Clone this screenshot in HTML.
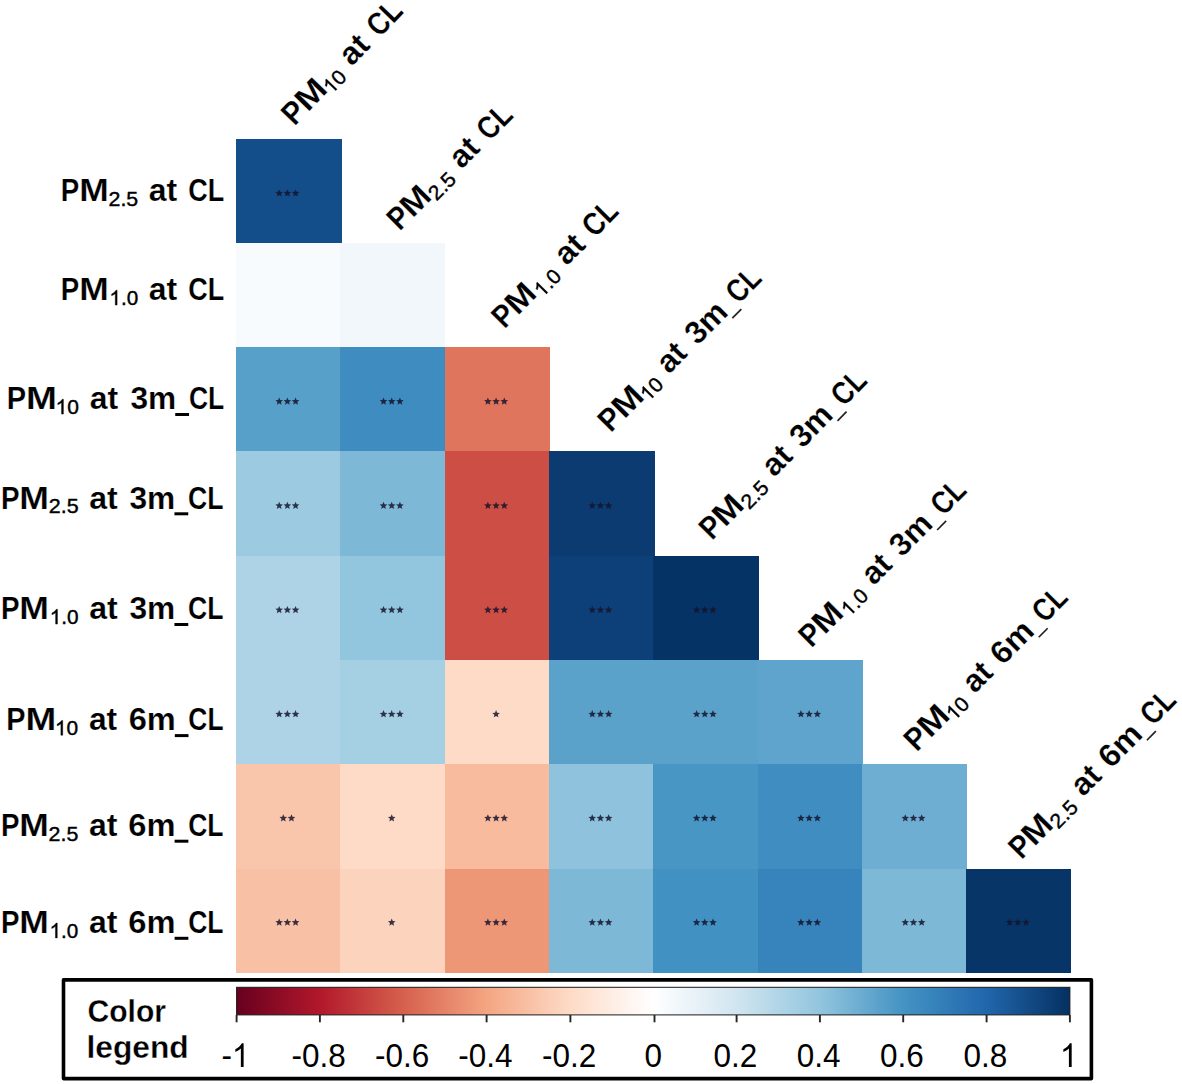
<!DOCTYPE html>
<html><head><meta charset="utf-8"><title>Correlation heatmap</title>
<style>
html,body{margin:0;padding:0;background:#fff;}
body{width:1182px;height:1084px;overflow:hidden;font-family:"Liberation Sans",sans-serif;}
svg{display:block}
text{font-family:"Liberation Sans",sans-serif;fill:#000}
.b{font-weight:bold;font-size:31.8px;stroke:#fff;stroke-width:0.2;paint-order:fill stroke}
.s{font-weight:normal;font-size:20.6px;stroke:#000;stroke-width:0.4}
.tk{font-size:31.5px;text-anchor:middle}
.lg{font-weight:bold;font-size:31.3px;stroke:#fff;stroke-width:0.3;paint-order:fill stroke}
.stars{fill:#15132b;fill-opacity:.84}
</style></head><body>
<svg width="1182" height="1084" viewBox="0 0 1182 1084">
<defs><linearGradient id="rdbu" x1="0" x2="1" y1="0" y2="0"><stop offset="0.00" stop-color="#67001F"/><stop offset="0.10" stop-color="#B2182B"/><stop offset="0.20" stop-color="#D6604D"/><stop offset="0.30" stop-color="#F4A582"/><stop offset="0.40" stop-color="#FDDBC7"/><stop offset="0.50" stop-color="#FFFFFF"/><stop offset="0.60" stop-color="#D1E5F0"/><stop offset="0.70" stop-color="#92C5DE"/><stop offset="0.80" stop-color="#4393C3"/><stop offset="0.90" stop-color="#2166AC"/><stop offset="1.00" stop-color="#053061"/></linearGradient></defs>
<rect width="1182" height="1084" fill="#fff"/>
<g shape-rendering="crispEdges">
<rect x="236.00" y="138.50" width="105.55" height="104.71" fill="#144e8a"/>
<rect x="236.00" y="242.81" width="104.75" height="104.71" fill="#f8fbfd"/><rect x="340.35" y="242.81" width="104.75" height="104.71" fill="#f1f7fa"/>
<rect x="236.00" y="347.12" width="104.75" height="104.71" fill="#57a0ca"/><rect x="340.35" y="347.12" width="104.75" height="104.71" fill="#3e8cc0"/><rect x="444.70" y="347.12" width="105.15" height="104.71" fill="#df755d"/>
<rect x="236.00" y="451.44" width="104.75" height="104.71" fill="#9bcae1"/><rect x="340.35" y="451.44" width="104.75" height="104.71" fill="#7eb8d7"/><rect x="444.70" y="451.44" width="104.75" height="104.71" fill="#cd4e44"/><rect x="549.05" y="451.44" width="106.35" height="104.71" fill="#0b3b70"/>
<rect x="236.00" y="555.75" width="104.75" height="104.71" fill="#aed3e6"/><rect x="340.35" y="555.75" width="104.75" height="104.71" fill="#92c5de"/><rect x="444.70" y="555.75" width="104.75" height="104.71" fill="#cd4e44"/><rect x="549.05" y="555.75" width="104.75" height="104.71" fill="#0d4078"/><rect x="653.40" y="555.75" width="105.55" height="104.71" fill="#063365"/>
<rect x="236.00" y="660.06" width="104.75" height="104.71" fill="#aed3e6"/><rect x="340.35" y="660.06" width="104.75" height="104.71" fill="#a5cfe3"/><rect x="444.70" y="660.06" width="104.75" height="104.71" fill="#fddbc7"/><rect x="549.05" y="660.06" width="104.75" height="104.71" fill="#5ba2cb"/><rect x="653.40" y="660.06" width="104.75" height="104.71" fill="#5ba2cb"/><rect x="757.75" y="660.06" width="104.75" height="104.71" fill="#5fa4cc"/>
<rect x="236.00" y="764.38" width="104.75" height="104.71" fill="#f9c5ab"/><rect x="340.35" y="764.38" width="104.75" height="104.71" fill="#fddbc7"/><rect x="444.70" y="764.38" width="104.75" height="104.71" fill="#f8bb9e"/><rect x="549.05" y="764.38" width="104.75" height="104.71" fill="#8ec2dd"/><rect x="653.40" y="764.38" width="104.75" height="104.71" fill="#4796c4"/><rect x="757.75" y="764.38" width="104.75" height="104.71" fill="#408ec1"/><rect x="862.10" y="764.38" width="104.95" height="104.71" fill="#6eaed2"/>
<rect x="236.00" y="868.69" width="104.75" height="104.71" fill="#f8c0a4"/><rect x="340.35" y="868.69" width="104.75" height="104.71" fill="#fcd3bd"/><rect x="444.70" y="868.69" width="104.75" height="104.71" fill="#ee9777"/><rect x="549.05" y="868.69" width="104.75" height="104.71" fill="#7eb8d7"/><rect x="653.40" y="868.69" width="104.75" height="104.71" fill="#4191c2"/><rect x="757.75" y="868.69" width="104.75" height="104.71" fill="#3783bb"/><rect x="862.10" y="868.69" width="104.75" height="104.71" fill="#7eb8d7"/><rect x="966.45" y="868.69" width="104.75" height="104.71" fill="#083568"/>
</g>
<g class="stars">
<polygon points="279.18,189.16 280.23,191.70 282.98,191.92 280.89,193.71 281.53,196.39 279.18,194.96 276.82,196.39 277.46,193.71 275.37,191.92 278.12,191.70"/><polygon points="287.38,189.16 288.43,191.70 291.18,191.92 289.09,193.71 289.73,196.39 287.38,194.96 285.02,196.39 285.66,193.71 283.57,191.92 286.32,191.70"/><polygon points="295.57,189.16 296.63,191.70 299.38,191.92 297.29,193.71 297.93,196.39 295.57,194.96 293.22,196.39 293.86,193.71 291.77,191.92 294.52,191.70"/>

<polygon points="279.18,397.54 280.23,400.09 282.98,400.31 280.89,402.10 281.53,404.78 279.18,403.34 276.82,404.78 277.46,402.10 275.37,400.31 278.12,400.09"/><polygon points="287.38,397.54 288.43,400.09 291.18,400.31 289.09,402.10 289.73,404.78 287.38,403.34 285.02,404.78 285.66,402.10 283.57,400.31 286.32,400.09"/><polygon points="295.57,397.54 296.63,400.09 299.38,400.31 297.29,402.10 297.93,404.78 295.57,403.34 293.22,404.78 293.86,402.10 291.77,400.31 294.52,400.09"/><polygon points="383.52,397.54 384.58,400.09 387.33,400.31 385.24,402.10 385.88,404.78 383.52,403.34 381.17,404.78 381.81,402.10 379.72,400.31 382.47,400.09"/><polygon points="391.72,397.54 392.78,400.09 395.53,400.31 393.44,402.10 394.08,404.78 391.72,403.34 389.37,404.78 390.01,402.10 387.92,400.31 390.67,400.09"/><polygon points="399.92,397.54 400.98,400.09 403.73,400.31 401.64,402.10 402.28,404.78 399.92,403.34 397.57,404.78 398.21,402.10 396.12,400.31 398.87,400.09"/><polygon points="487.88,397.54 488.93,400.09 491.68,400.31 489.59,402.10 490.23,404.78 487.88,403.34 485.52,404.78 486.16,402.10 484.07,400.31 486.82,400.09"/><polygon points="496.07,397.54 497.13,400.09 499.88,400.31 497.79,402.10 498.43,404.78 496.07,403.34 493.72,404.78 494.36,402.10 492.27,400.31 495.02,400.09"/><polygon points="504.27,397.54 505.33,400.09 508.08,400.31 505.99,402.10 506.63,404.78 504.27,403.34 501.92,404.78 502.56,402.10 500.47,400.31 503.22,400.09"/>
<polygon points="279.18,501.73 280.23,504.28 282.98,504.50 280.89,506.29 281.53,508.97 279.18,507.53 276.82,508.97 277.46,506.29 275.37,504.50 278.12,504.28"/><polygon points="287.38,501.73 288.43,504.28 291.18,504.50 289.09,506.29 289.73,508.97 287.38,507.53 285.02,508.97 285.66,506.29 283.57,504.50 286.32,504.28"/><polygon points="295.57,501.73 296.63,504.28 299.38,504.50 297.29,506.29 297.93,508.97 295.57,507.53 293.22,508.97 293.86,506.29 291.77,504.50 294.52,504.28"/><polygon points="383.52,501.73 384.58,504.28 387.33,504.50 385.24,506.29 385.88,508.97 383.52,507.53 381.17,508.97 381.81,506.29 379.72,504.50 382.47,504.28"/><polygon points="391.72,501.73 392.78,504.28 395.53,504.50 393.44,506.29 394.08,508.97 391.72,507.53 389.37,508.97 390.01,506.29 387.92,504.50 390.67,504.28"/><polygon points="399.92,501.73 400.98,504.28 403.73,504.50 401.64,506.29 402.28,508.97 399.92,507.53 397.57,508.97 398.21,506.29 396.12,504.50 398.87,504.28"/><polygon points="487.88,501.73 488.93,504.28 491.68,504.50 489.59,506.29 490.23,508.97 487.88,507.53 485.52,508.97 486.16,506.29 484.07,504.50 486.82,504.28"/><polygon points="496.07,501.73 497.13,504.28 499.88,504.50 497.79,506.29 498.43,508.97 496.07,507.53 493.72,508.97 494.36,506.29 492.27,504.50 495.02,504.28"/><polygon points="504.27,501.73 505.33,504.28 508.08,504.50 505.99,506.29 506.63,508.97 504.27,507.53 501.92,508.97 502.56,506.29 500.47,504.50 503.22,504.28"/><polygon points="592.22,501.73 593.28,504.28 596.03,504.50 593.94,506.29 594.58,508.97 592.22,507.53 589.87,508.97 590.51,506.29 588.42,504.50 591.17,504.28"/><polygon points="600.42,501.73 601.48,504.28 604.23,504.50 602.14,506.29 602.78,508.97 600.42,507.53 598.07,508.97 598.71,506.29 596.62,504.50 599.37,504.28"/><polygon points="608.62,501.73 609.68,504.28 612.43,504.50 610.34,506.29 610.98,508.97 608.62,507.53 606.27,508.97 606.91,506.29 604.82,504.50 607.57,504.28"/>
<polygon points="279.18,605.93 280.23,608.47 282.98,608.69 280.89,610.48 281.53,613.16 279.18,611.73 276.82,613.16 277.46,610.48 275.37,608.69 278.12,608.47"/><polygon points="287.38,605.93 288.43,608.47 291.18,608.69 289.09,610.48 289.73,613.16 287.38,611.73 285.02,613.16 285.66,610.48 283.57,608.69 286.32,608.47"/><polygon points="295.57,605.93 296.63,608.47 299.38,608.69 297.29,610.48 297.93,613.16 295.57,611.73 293.22,613.16 293.86,610.48 291.77,608.69 294.52,608.47"/><polygon points="383.52,605.93 384.58,608.47 387.33,608.69 385.24,610.48 385.88,613.16 383.52,611.73 381.17,613.16 381.81,610.48 379.72,608.69 382.47,608.47"/><polygon points="391.72,605.93 392.78,608.47 395.53,608.69 393.44,610.48 394.08,613.16 391.72,611.73 389.37,613.16 390.01,610.48 387.92,608.69 390.67,608.47"/><polygon points="399.92,605.93 400.98,608.47 403.73,608.69 401.64,610.48 402.28,613.16 399.92,611.73 397.57,613.16 398.21,610.48 396.12,608.69 398.87,608.47"/><polygon points="487.88,605.93 488.93,608.47 491.68,608.69 489.59,610.48 490.23,613.16 487.88,611.73 485.52,613.16 486.16,610.48 484.07,608.69 486.82,608.47"/><polygon points="496.07,605.93 497.13,608.47 499.88,608.69 497.79,610.48 498.43,613.16 496.07,611.73 493.72,613.16 494.36,610.48 492.27,608.69 495.02,608.47"/><polygon points="504.27,605.93 505.33,608.47 508.08,608.69 505.99,610.48 506.63,613.16 504.27,611.73 501.92,613.16 502.56,610.48 500.47,608.69 503.22,608.47"/><polygon points="592.22,605.93 593.28,608.47 596.03,608.69 593.94,610.48 594.58,613.16 592.22,611.73 589.87,613.16 590.51,610.48 588.42,608.69 591.17,608.47"/><polygon points="600.42,605.93 601.48,608.47 604.23,608.69 602.14,610.48 602.78,613.16 600.42,611.73 598.07,613.16 598.71,610.48 596.62,608.69 599.37,608.47"/><polygon points="608.62,605.93 609.68,608.47 612.43,608.69 610.34,610.48 610.98,613.16 608.62,611.73 606.27,613.16 606.91,610.48 604.82,608.69 607.57,608.47"/><polygon points="696.58,605.93 697.63,608.47 700.38,608.69 698.29,610.48 698.93,613.16 696.58,611.73 694.22,613.16 694.86,610.48 692.77,608.69 695.52,608.47"/><polygon points="704.78,605.93 705.83,608.47 708.58,608.69 706.49,610.48 707.13,613.16 704.78,611.73 702.42,613.16 703.06,610.48 700.97,608.69 703.72,608.47"/><polygon points="712.98,605.93 714.03,608.47 716.78,608.69 714.69,610.48 715.33,613.16 712.98,611.73 710.62,613.16 711.26,610.48 709.17,608.69 711.92,608.47"/>
<polygon points="279.18,710.12 280.23,712.66 282.98,712.88 280.89,714.67 281.53,717.35 279.18,715.92 276.82,717.35 277.46,714.67 275.37,712.88 278.12,712.66"/><polygon points="287.38,710.12 288.43,712.66 291.18,712.88 289.09,714.67 289.73,717.35 287.38,715.92 285.02,717.35 285.66,714.67 283.57,712.88 286.32,712.66"/><polygon points="295.57,710.12 296.63,712.66 299.38,712.88 297.29,714.67 297.93,717.35 295.57,715.92 293.22,717.35 293.86,714.67 291.77,712.88 294.52,712.66"/><polygon points="383.52,710.12 384.58,712.66 387.33,712.88 385.24,714.67 385.88,717.35 383.52,715.92 381.17,717.35 381.81,714.67 379.72,712.88 382.47,712.66"/><polygon points="391.72,710.12 392.78,712.66 395.53,712.88 393.44,714.67 394.08,717.35 391.72,715.92 389.37,717.35 390.01,714.67 387.92,712.88 390.67,712.66"/><polygon points="399.92,710.12 400.98,712.66 403.73,712.88 401.64,714.67 402.28,717.35 399.92,715.92 397.57,717.35 398.21,714.67 396.12,712.88 398.87,712.66"/><polygon points="496.07,710.12 497.13,712.66 499.88,712.88 497.79,714.67 498.43,717.35 496.07,715.92 493.72,717.35 494.36,714.67 492.27,712.88 495.02,712.66"/><polygon points="592.22,710.12 593.28,712.66 596.03,712.88 593.94,714.67 594.58,717.35 592.22,715.92 589.87,717.35 590.51,714.67 588.42,712.88 591.17,712.66"/><polygon points="600.42,710.12 601.48,712.66 604.23,712.88 602.14,714.67 602.78,717.35 600.42,715.92 598.07,717.35 598.71,714.67 596.62,712.88 599.37,712.66"/><polygon points="608.62,710.12 609.68,712.66 612.43,712.88 610.34,714.67 610.98,717.35 608.62,715.92 606.27,717.35 606.91,714.67 604.82,712.88 607.57,712.66"/><polygon points="696.58,710.12 697.63,712.66 700.38,712.88 698.29,714.67 698.93,717.35 696.58,715.92 694.22,717.35 694.86,714.67 692.77,712.88 695.52,712.66"/><polygon points="704.78,710.12 705.83,712.66 708.58,712.88 706.49,714.67 707.13,717.35 704.78,715.92 702.42,717.35 703.06,714.67 700.97,712.88 703.72,712.66"/><polygon points="712.98,710.12 714.03,712.66 716.78,712.88 714.69,714.67 715.33,717.35 712.98,715.92 710.62,717.35 711.26,714.67 709.17,712.88 711.92,712.66"/><polygon points="800.92,710.12 801.98,712.66 804.73,712.88 802.64,714.67 803.28,717.35 800.92,715.92 798.57,717.35 799.21,714.67 797.12,712.88 799.87,712.66"/><polygon points="809.12,710.12 810.18,712.66 812.93,712.88 810.84,714.67 811.48,717.35 809.12,715.92 806.77,717.35 807.41,714.67 805.32,712.88 808.07,712.66"/><polygon points="817.33,710.12 818.38,712.66 821.13,712.88 819.04,714.67 819.68,717.35 817.33,715.92 814.97,717.35 815.61,714.67 813.52,712.88 816.27,712.66"/>
<polygon points="283.27,814.31 284.33,816.86 287.08,817.08 284.99,818.87 285.63,821.55 283.27,820.11 280.92,821.55 281.56,818.87 279.47,817.08 282.22,816.86"/><polygon points="291.48,814.31 292.53,816.86 295.28,817.08 293.19,818.87 293.83,821.55 291.48,820.11 289.12,821.55 289.76,818.87 287.67,817.08 290.42,816.86"/><polygon points="391.72,814.31 392.78,816.86 395.53,817.08 393.44,818.87 394.08,821.55 391.72,820.11 389.37,821.55 390.01,818.87 387.92,817.08 390.67,816.86"/><polygon points="487.88,814.31 488.93,816.86 491.68,817.08 489.59,818.87 490.23,821.55 487.88,820.11 485.52,821.55 486.16,818.87 484.07,817.08 486.82,816.86"/><polygon points="496.07,814.31 497.13,816.86 499.88,817.08 497.79,818.87 498.43,821.55 496.07,820.11 493.72,821.55 494.36,818.87 492.27,817.08 495.02,816.86"/><polygon points="504.27,814.31 505.33,816.86 508.08,817.08 505.99,818.87 506.63,821.55 504.27,820.11 501.92,821.55 502.56,818.87 500.47,817.08 503.22,816.86"/><polygon points="592.22,814.31 593.28,816.86 596.03,817.08 593.94,818.87 594.58,821.55 592.22,820.11 589.87,821.55 590.51,818.87 588.42,817.08 591.17,816.86"/><polygon points="600.42,814.31 601.48,816.86 604.23,817.08 602.14,818.87 602.78,821.55 600.42,820.11 598.07,821.55 598.71,818.87 596.62,817.08 599.37,816.86"/><polygon points="608.62,814.31 609.68,816.86 612.43,817.08 610.34,818.87 610.98,821.55 608.62,820.11 606.27,821.55 606.91,818.87 604.82,817.08 607.57,816.86"/><polygon points="696.58,814.31 697.63,816.86 700.38,817.08 698.29,818.87 698.93,821.55 696.58,820.11 694.22,821.55 694.86,818.87 692.77,817.08 695.52,816.86"/><polygon points="704.78,814.31 705.83,816.86 708.58,817.08 706.49,818.87 707.13,821.55 704.78,820.11 702.42,821.55 703.06,818.87 700.97,817.08 703.72,816.86"/><polygon points="712.98,814.31 714.03,816.86 716.78,817.08 714.69,818.87 715.33,821.55 712.98,820.11 710.62,821.55 711.26,818.87 709.17,817.08 711.92,816.86"/><polygon points="800.92,814.31 801.98,816.86 804.73,817.08 802.64,818.87 803.28,821.55 800.92,820.11 798.57,821.55 799.21,818.87 797.12,817.08 799.87,816.86"/><polygon points="809.12,814.31 810.18,816.86 812.93,817.08 810.84,818.87 811.48,821.55 809.12,820.11 806.77,821.55 807.41,818.87 805.32,817.08 808.07,816.86"/><polygon points="817.33,814.31 818.38,816.86 821.13,817.08 819.04,818.87 819.68,821.55 817.33,820.11 814.97,821.55 815.61,818.87 813.52,817.08 816.27,816.86"/><polygon points="905.27,814.31 906.33,816.86 909.08,817.08 906.99,818.87 907.63,821.55 905.27,820.11 902.92,821.55 903.56,818.87 901.47,817.08 904.22,816.86"/><polygon points="913.48,814.31 914.53,816.86 917.28,817.08 915.19,818.87 915.83,821.55 913.48,820.11 911.12,821.55 911.76,818.87 909.67,817.08 912.42,816.86"/><polygon points="921.68,814.31 922.73,816.86 925.48,817.08 923.39,818.87 924.03,821.55 921.68,820.11 919.32,821.55 919.96,818.87 917.87,817.08 920.62,816.86"/>
<polygon points="279.18,918.50 280.23,921.05 282.98,921.27 280.89,923.06 281.53,925.74 279.18,924.30 276.82,925.74 277.46,923.06 275.37,921.27 278.12,921.05"/><polygon points="287.38,918.50 288.43,921.05 291.18,921.27 289.09,923.06 289.73,925.74 287.38,924.30 285.02,925.74 285.66,923.06 283.57,921.27 286.32,921.05"/><polygon points="295.57,918.50 296.63,921.05 299.38,921.27 297.29,923.06 297.93,925.74 295.57,924.30 293.22,925.74 293.86,923.06 291.77,921.27 294.52,921.05"/><polygon points="391.72,918.50 392.78,921.05 395.53,921.27 393.44,923.06 394.08,925.74 391.72,924.30 389.37,925.74 390.01,923.06 387.92,921.27 390.67,921.05"/><polygon points="487.88,918.50 488.93,921.05 491.68,921.27 489.59,923.06 490.23,925.74 487.88,924.30 485.52,925.74 486.16,923.06 484.07,921.27 486.82,921.05"/><polygon points="496.07,918.50 497.13,921.05 499.88,921.27 497.79,923.06 498.43,925.74 496.07,924.30 493.72,925.74 494.36,923.06 492.27,921.27 495.02,921.05"/><polygon points="504.27,918.50 505.33,921.05 508.08,921.27 505.99,923.06 506.63,925.74 504.27,924.30 501.92,925.74 502.56,923.06 500.47,921.27 503.22,921.05"/><polygon points="592.22,918.50 593.28,921.05 596.03,921.27 593.94,923.06 594.58,925.74 592.22,924.30 589.87,925.74 590.51,923.06 588.42,921.27 591.17,921.05"/><polygon points="600.42,918.50 601.48,921.05 604.23,921.27 602.14,923.06 602.78,925.74 600.42,924.30 598.07,925.74 598.71,923.06 596.62,921.27 599.37,921.05"/><polygon points="608.62,918.50 609.68,921.05 612.43,921.27 610.34,923.06 610.98,925.74 608.62,924.30 606.27,925.74 606.91,923.06 604.82,921.27 607.57,921.05"/><polygon points="696.58,918.50 697.63,921.05 700.38,921.27 698.29,923.06 698.93,925.74 696.58,924.30 694.22,925.74 694.86,923.06 692.77,921.27 695.52,921.05"/><polygon points="704.78,918.50 705.83,921.05 708.58,921.27 706.49,923.06 707.13,925.74 704.78,924.30 702.42,925.74 703.06,923.06 700.97,921.27 703.72,921.05"/><polygon points="712.98,918.50 714.03,921.05 716.78,921.27 714.69,923.06 715.33,925.74 712.98,924.30 710.62,925.74 711.26,923.06 709.17,921.27 711.92,921.05"/><polygon points="800.92,918.50 801.98,921.05 804.73,921.27 802.64,923.06 803.28,925.74 800.92,924.30 798.57,925.74 799.21,923.06 797.12,921.27 799.87,921.05"/><polygon points="809.12,918.50 810.18,921.05 812.93,921.27 810.84,923.06 811.48,925.74 809.12,924.30 806.77,925.74 807.41,923.06 805.32,921.27 808.07,921.05"/><polygon points="817.33,918.50 818.38,921.05 821.13,921.27 819.04,923.06 819.68,925.74 817.33,924.30 814.97,925.74 815.61,923.06 813.52,921.27 816.27,921.05"/><polygon points="905.27,918.50 906.33,921.05 909.08,921.27 906.99,923.06 907.63,925.74 905.27,924.30 902.92,925.74 903.56,923.06 901.47,921.27 904.22,921.05"/><polygon points="913.48,918.50 914.53,921.05 917.28,921.27 915.19,923.06 915.83,925.74 913.48,924.30 911.12,925.74 911.76,923.06 909.67,921.27 912.42,921.05"/><polygon points="921.68,918.50 922.73,921.05 925.48,921.27 923.39,923.06 924.03,925.74 921.68,924.30 919.32,925.74 919.96,923.06 917.87,921.27 920.62,921.05"/><polygon points="1009.62,918.50 1010.68,921.05 1013.43,921.27 1011.34,923.06 1011.98,925.74 1009.62,924.30 1007.27,925.74 1007.91,923.06 1005.82,921.27 1008.57,921.05"/><polygon points="1017.83,918.50 1018.88,921.05 1021.63,921.27 1019.54,923.06 1020.18,925.74 1017.83,924.30 1015.47,925.74 1016.11,923.06 1014.02,921.27 1016.77,921.05"/><polygon points="1026.03,918.50 1027.08,921.05 1029.83,921.27 1027.74,923.06 1028.38,925.74 1026.03,924.30 1023.67,925.74 1024.31,923.06 1022.22,921.27 1024.97,921.05"/>
</g>
<g transform="translate(62.50,201.20) scale(0.9969,1)"><text transform="translate(-1.67,0.00) scale(0.8734,1)" class="b">P</text><text transform="translate(16.70,0.00) scale(1.1183,1)" class="b">M</text><text transform="translate(46.13,4.80) scale(1.0418,1)" class="s">2.5</text><text transform="translate(86.54,0.00) scale(1.0085,1)" class="b">at</text><text transform="translate(126.12,0.00) scale(0.8519,1)" class="b">CL</text></g>
<g transform="translate(62.50,300.30) scale(0.9969,1)"><text transform="translate(-1.67,0.00) scale(0.8734,1)" class="b">P</text><text transform="translate(16.70,0.00) scale(1.1183,1)" class="b">M</text><g transform="translate(47.04,4.8) scale(1.0080,1)"><path transform="scale(0.01006,-0.01006)" d="M763,0L583,0L583,1147Q518,1085 412.5,1023Q307,961 223,930L223,1104Q374,1175 487,1276Q600,1377 647,1472L763,1472Z" fill="#000" stroke="#000" stroke-width="0.4" vector-effect="non-scaling-stroke"/><text x="11.45" y="0" class="s">.0</text></g><text transform="translate(86.54,0.00) scale(1.0085,1)" class="b">at</text><text transform="translate(126.12,0.00) scale(0.8519,1)" class="b">CL</text></g>
<g transform="translate(8.50,409.30) scale(0.9991,1)"><text transform="translate(-1.76,0.00) scale(0.9137,1)" class="b">P</text><text transform="translate(17.46,0.00) scale(1.1692,1)" class="b">M</text><g transform="translate(47.11,4.8) scale(1.0217,1)"><path transform="scale(0.01006,-0.01006)" d="M763,0L583,0L583,1147Q518,1085 412.5,1023Q307,961 223,930L223,1104Q374,1175 487,1276Q600,1377 647,1472L763,1472Z" fill="#000" stroke="#000" stroke-width="0.4" vector-effect="non-scaling-stroke"/><text x="11.45" y="0" class="s">0</text></g><text transform="translate(81.34,0.00) scale(1.0048,1)" class="b">at</text><text transform="translate(121.99,0.00) scale(0.9966,1)" class="b">3m</text><rect x="166.90" y="3.7" width="13.8" height="3.0" fill="#000"/><text transform="translate(180.54,0.00) scale(0.8344,1)" class="b">CL</text></g>
<g transform="translate(2.60,508.60) scale(1.0014,1)"><text transform="translate(-1.67,0.00) scale(0.8734,1)" class="b">P</text><text transform="translate(16.70,0.00) scale(1.1183,1)" class="b">M</text><text transform="translate(46.13,4.80) scale(1.0418,1)" class="s">2.5</text><text transform="translate(86.54,0.00) scale(1.0085,1)" class="b">at</text><text transform="translate(126.69,0.00) scale(0.9966,1)" class="b">3m</text><rect x="171.60" y="3.7" width="13.8" height="3.0" fill="#000"/><text transform="translate(185.24,0.00) scale(0.8344,1)" class="b">CL</text></g>
<g transform="translate(2.60,619.30) scale(1.0014,1)"><text transform="translate(-1.67,0.00) scale(0.8734,1)" class="b">P</text><text transform="translate(16.70,0.00) scale(1.1183,1)" class="b">M</text><g transform="translate(47.04,4.8) scale(1.0080,1)"><path transform="scale(0.01006,-0.01006)" d="M763,0L583,0L583,1147Q518,1085 412.5,1023Q307,961 223,930L223,1104Q374,1175 487,1276Q600,1377 647,1472L763,1472Z" fill="#000" stroke="#000" stroke-width="0.4" vector-effect="non-scaling-stroke"/><text x="11.45" y="0" class="s">.0</text></g><text transform="translate(86.54,0.00) scale(1.0085,1)" class="b">at</text><text transform="translate(126.69,0.00) scale(0.9966,1)" class="b">3m</text><rect x="171.60" y="3.7" width="13.8" height="3.0" fill="#000"/><text transform="translate(185.24,0.00) scale(0.8344,1)" class="b">CL</text></g>
<g transform="translate(8.10,730.40) scale(0.9940,1)"><text transform="translate(-1.76,0.00) scale(0.9137,1)" class="b">P</text><text transform="translate(17.46,0.00) scale(1.1692,1)" class="b">M</text><g transform="translate(47.11,4.8) scale(1.0217,1)"><path transform="scale(0.01006,-0.01006)" d="M763,0L583,0L583,1147Q518,1085 412.5,1023Q307,961 223,930L223,1104Q374,1175 487,1276Q600,1377 647,1472L763,1472Z" fill="#000" stroke="#000" stroke-width="0.4" vector-effect="non-scaling-stroke"/><text x="11.45" y="0" class="s">0</text></g><text transform="translate(81.34,0.00) scale(1.0048,1)" class="b">at</text><text transform="translate(121.27,0.00) scale(1.0311,1)" class="b">6m</text><rect x="167.70" y="3.7" width="13.8" height="3.0" fill="#000"/><text transform="translate(181.34,0.00) scale(0.8344,1)" class="b">CL</text></g>
<g transform="translate(2.60,836.00) scale(0.9977,1)"><text transform="translate(-1.67,0.00) scale(0.8734,1)" class="b">P</text><text transform="translate(16.70,0.00) scale(1.1183,1)" class="b">M</text><text transform="translate(46.13,4.80) scale(1.0418,1)" class="s">2.5</text><text transform="translate(86.54,0.00) scale(1.0085,1)" class="b">at</text><text transform="translate(125.97,0.00) scale(1.0311,1)" class="b">6m</text><rect x="172.40" y="3.7" width="13.8" height="3.0" fill="#000"/><text transform="translate(186.04,0.00) scale(0.8344,1)" class="b">CL</text></g>
<g transform="translate(2.60,933.10) scale(0.9977,1)"><text transform="translate(-1.67,0.00) scale(0.8734,1)" class="b">P</text><text transform="translate(16.70,0.00) scale(1.1183,1)" class="b">M</text><g transform="translate(47.04,4.8) scale(1.0080,1)"><path transform="scale(0.01006,-0.01006)" d="M763,0L583,0L583,1147Q518,1085 412.5,1023Q307,961 223,930L223,1104Q374,1175 487,1276Q600,1377 647,1472L763,1472Z" fill="#000" stroke="#000" stroke-width="0.4" vector-effect="non-scaling-stroke"/><text x="11.45" y="0" class="s">.0</text></g><text transform="translate(86.54,0.00) scale(1.0085,1)" class="b">at</text><text transform="translate(125.97,0.00) scale(1.0311,1)" class="b">6m</text><rect x="172.40" y="3.7" width="13.8" height="3.0" fill="#000"/><text transform="translate(186.04,0.00) scale(0.8344,1)" class="b">CL</text></g>
<g transform="translate(295.60,125.40) rotate(-46.09) scale(0.9965,1)"><text transform="translate(-1.76,0.00) scale(0.9137,1)" class="b">P</text><text transform="translate(17.46,0.00) scale(1.1692,1)" class="b">M</text><g transform="translate(47.11,4.8) scale(1.0217,1)"><path transform="scale(0.01006,-0.01006)" d="M763,0L583,0L583,1147Q518,1085 412.5,1023Q307,961 223,930L223,1104Q374,1175 487,1276Q600,1377 647,1472L763,1472Z" fill="#000" stroke="#000" stroke-width="0.4" vector-effect="non-scaling-stroke"/><text x="11.45" y="0" class="s">0</text></g><text transform="translate(81.34,0.00) scale(1.0048,1)" class="b">at</text><text transform="translate(121.42,0.00) scale(0.8519,1)" class="b">CL</text></g>
<g transform="translate(400.80,230.40) rotate(-45.00) scale(0.9910,1)"><text transform="translate(-1.67,0.00) scale(0.8734,1)" class="b">P</text><text transform="translate(16.70,0.00) scale(1.1183,1)" class="b">M</text><text transform="translate(46.13,4.80) scale(1.0418,1)" class="s">2.5</text><text transform="translate(86.54,0.00) scale(1.0085,1)" class="b">at</text><text transform="translate(126.12,0.00) scale(0.8519,1)" class="b">CL</text></g>
<g transform="translate(505.80,328.20) rotate(-45.28) scale(1.0020,1)"><text transform="translate(-1.67,0.00) scale(0.8734,1)" class="b">P</text><text transform="translate(16.70,0.00) scale(1.1183,1)" class="b">M</text><g transform="translate(47.04,4.8) scale(1.0080,1)"><path transform="scale(0.01006,-0.01006)" d="M763,0L583,0L583,1147Q518,1085 412.5,1023Q307,961 223,930L223,1104Q374,1175 487,1276Q600,1377 647,1472L763,1472Z" fill="#000" stroke="#000" stroke-width="0.4" vector-effect="non-scaling-stroke"/><text x="11.45" y="0" class="s">.0</text></g><text transform="translate(86.54,0.00) scale(1.0085,1)" class="b">at</text><text transform="translate(126.12,0.00) scale(0.8519,1)" class="b">CL</text></g>
<g transform="translate(611.90,432.10) rotate(-45.17) scale(0.9944,1)"><text transform="translate(-1.76,0.00) scale(0.9137,1)" class="b">P</text><text transform="translate(17.46,0.00) scale(1.1692,1)" class="b">M</text><g transform="translate(47.11,4.8) scale(1.0217,1)"><path transform="scale(0.01006,-0.01006)" d="M763,0L583,0L583,1147Q518,1085 412.5,1023Q307,961 223,930L223,1104Q374,1175 487,1276Q600,1377 647,1472L763,1472Z" fill="#000" stroke="#000" stroke-width="0.4" vector-effect="non-scaling-stroke"/><text x="11.45" y="0" class="s">0</text></g><text transform="translate(81.34,0.00) scale(1.0048,1)" class="b">at</text><text transform="translate(121.99,0.00) scale(0.9966,1)" class="b">3m</text><rect x="166.70" y="4.2" width="12.8" height="1.7" fill="#222"/><text transform="translate(180.54,0.00) scale(0.8344,1)" class="b">CL</text></g>
<g transform="translate(713.30,539.90) rotate(-45.46) scale(1.0034,1)"><text transform="translate(-1.67,0.00) scale(0.8734,1)" class="b">P</text><text transform="translate(16.70,0.00) scale(1.1183,1)" class="b">M</text><text transform="translate(46.13,4.80) scale(1.0418,1)" class="s">2.5</text><text transform="translate(86.54,0.00) scale(1.0085,1)" class="b">at</text><text transform="translate(126.69,0.00) scale(0.9966,1)" class="b">3m</text><rect x="171.40" y="4.2" width="12.8" height="1.7" fill="#222"/><text transform="translate(185.24,0.00) scale(0.8344,1)" class="b">CL</text></g>
<g transform="translate(812.70,647.30) rotate(-45.00) scale(0.9973,1)"><text transform="translate(-1.67,0.00) scale(0.8734,1)" class="b">P</text><text transform="translate(16.70,0.00) scale(1.1183,1)" class="b">M</text><g transform="translate(47.04,4.8) scale(1.0080,1)"><path transform="scale(0.01006,-0.01006)" d="M763,0L583,0L583,1147Q518,1085 412.5,1023Q307,961 223,930L223,1104Q374,1175 487,1276Q600,1377 647,1472L763,1472Z" fill="#000" stroke="#000" stroke-width="0.4" vector-effect="non-scaling-stroke"/><text x="11.45" y="0" class="s">.0</text></g><text transform="translate(86.54,0.00) scale(1.0085,1)" class="b">at</text><text transform="translate(126.69,0.00) scale(0.9966,1)" class="b">3m</text><rect x="171.40" y="4.2" width="12.8" height="1.7" fill="#222"/><text transform="translate(185.24,0.00) scale(0.8344,1)" class="b">CL</text></g>
<g transform="translate(917.90,751.30) rotate(-45.09) scale(0.9914,1)"><text transform="translate(-1.76,0.00) scale(0.9137,1)" class="b">P</text><text transform="translate(17.46,0.00) scale(1.1692,1)" class="b">M</text><g transform="translate(47.11,4.8) scale(1.0217,1)"><path transform="scale(0.01006,-0.01006)" d="M763,0L583,0L583,1147Q518,1085 412.5,1023Q307,961 223,930L223,1104Q374,1175 487,1276Q600,1377 647,1472L763,1472Z" fill="#000" stroke="#000" stroke-width="0.4" vector-effect="non-scaling-stroke"/><text x="11.45" y="0" class="s">0</text></g><text transform="translate(81.34,0.00) scale(1.0048,1)" class="b">at</text><text transform="translate(121.27,0.00) scale(1.0311,1)" class="b">6m</text><rect x="167.50" y="4.2" width="12.8" height="1.7" fill="#222"/><text transform="translate(181.34,0.00) scale(0.8344,1)" class="b">CL</text></g>
<g transform="translate(1022.60,859.10) rotate(-45.40) scale(0.9982,1)"><text transform="translate(-1.67,0.00) scale(0.8734,1)" class="b">P</text><text transform="translate(16.70,0.00) scale(1.1183,1)" class="b">M</text><text transform="translate(46.13,4.80) scale(1.0418,1)" class="s">2.5</text><text transform="translate(86.54,0.00) scale(1.0085,1)" class="b">at</text><text transform="translate(125.97,0.00) scale(1.0311,1)" class="b">6m</text><rect x="172.20" y="4.2" width="12.8" height="1.7" fill="#222"/><text transform="translate(186.04,0.00) scale(0.8344,1)" class="b">CL</text></g>
<rect x="63.5" y="979.9" width="1027.9" height="98.7" fill="#fff" stroke="#000" stroke-width="3.6" stroke-linejoin="round"/>
<rect x="236.6" y="987.3" width="833.3" height="27.6" fill="url(#rdbu)" stroke="#1a1a1a" stroke-width="1"/>
<line x1="236.6" y1="1015" x2="236.6" y2="1022.3" stroke="#262626" stroke-width="1.9"/><text transform="translate(221.40,1067) scale(1,1.045)" class="tk" style="text-anchor:start">-</text><path transform="translate(231.89,1067) scale(0.01538,-0.01607)" d="M763,0L583,0L583,1147Q518,1085 412.5,1023Q307,961 223,930L223,1104Q374,1175 487,1276Q600,1377 647,1472L763,1472Z" fill="#000"/>
<line x1="319.9" y1="1015" x2="319.9" y2="1022.3" stroke="#262626" stroke-width="1.9"/><text transform="translate(318.7,1067) scale(1,1.045)" class="tk">-0.8</text>
<line x1="403.3" y1="1015" x2="403.3" y2="1022.3" stroke="#262626" stroke-width="1.9"/><text transform="translate(402.1,1067) scale(1,1.045)" class="tk">-0.6</text>
<line x1="486.6" y1="1015" x2="486.6" y2="1022.3" stroke="#262626" stroke-width="1.9"/><text transform="translate(485.4,1067) scale(1,1.045)" class="tk">-0.4</text>
<line x1="570.4" y1="1015" x2="570.4" y2="1022.3" stroke="#262626" stroke-width="1.9"/><text transform="translate(569.2,1067) scale(1,1.045)" class="tk">-0.2</text>
<line x1="654.5" y1="1015" x2="654.5" y2="1022.3" stroke="#262626" stroke-width="1.9"/><text transform="translate(653.3,1067) scale(1,1.045)" class="tk">0</text>
<line x1="736.6" y1="1015" x2="736.6" y2="1022.3" stroke="#262626" stroke-width="1.9"/><text transform="translate(735.4,1067) scale(1,1.045)" class="tk">0.2</text>
<line x1="819.9" y1="1015" x2="819.9" y2="1022.3" stroke="#262626" stroke-width="1.9"/><text transform="translate(818.7,1067) scale(1,1.045)" class="tk">0.4</text>
<line x1="903.2" y1="1015" x2="903.2" y2="1022.3" stroke="#262626" stroke-width="1.9"/><text transform="translate(902.0,1067) scale(1,1.045)" class="tk">0.6</text>
<line x1="986.6" y1="1015" x2="986.6" y2="1022.3" stroke="#262626" stroke-width="1.9"/><text transform="translate(985.4,1067) scale(1,1.045)" class="tk">0.8</text>
<line x1="1069.9" y1="1015" x2="1069.9" y2="1022.3" stroke="#262626" stroke-width="1.9"/><path transform="translate(1059.94,1067) scale(0.01538,-0.01607)" d="M763,0L583,0L583,1147Q518,1085 412.5,1023Q307,961 223,930L223,1104Q374,1175 487,1276Q600,1377 647,1472L763,1472Z" fill="#000"/>
<text transform="translate(87.50,1021.70) scale(0.9607,1)" class="lg">Color</text>
<text transform="translate(86.48,1057.70) scale(1.0141,1)" class="lg">legend</text>
</svg></body></html>
